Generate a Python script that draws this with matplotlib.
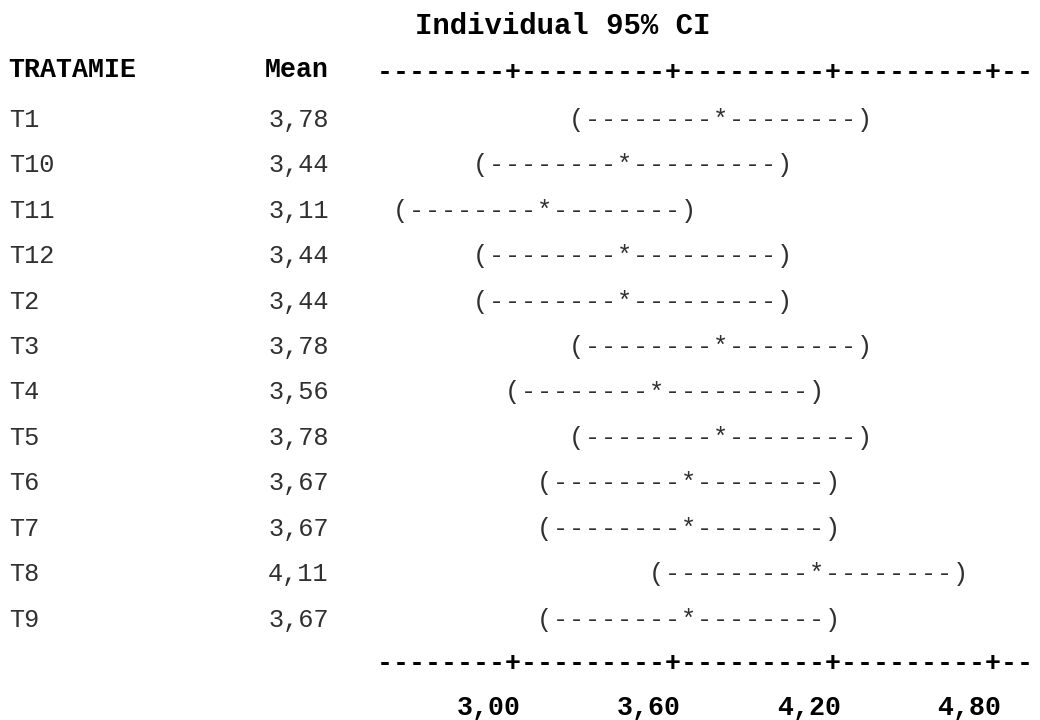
import math
import matplotlib
matplotlib.use("Agg")
import matplotlib.pyplot as plt

# Minitab one-way ANOVA output: individual 95% CIs for the treatment means
treatments = ["T1", "T10", "T11", "T12", "T2", "T3", "T4", "T5", "T6", "T7", "T8", "T9"]
means = [3.78, 3.44, 3.11, 3.44, 3.44, 3.78, 3.56, 3.78, 3.67, 3.67, 4.11, 3.67]
ci_half_width = 0.555          # pooled-StDev half width of each 95% CI
tick_values = [3.00, 3.60, 4.20, 4.80]
tick_labels = ["3,00", "3,60", "4,20", "4,80"]
title_text = "Individual 95% CI"
factor_name = "TRATAMIE"
mean_header = "Mean"

# character grid of the text plot
STEP = 0.06            # value per character column (0.60 between ticks = 10 columns)
TICK_COL = 31          # column holding the first tick '+'
AXIS_FIRST_COL, AXIS_LAST_COL = 23, 63
MEAN_COL = 16          # first column of the Mean field

FONT = "Liberation Mono"
SIZE = 19.2
SIZE_REG = 18.2
REG = "#303030"
BOLD = "#000000"


def col_center(c):
    return tick_values[0] + (c - TICK_COL) * STEP


def col_left(c):
    return col_center(c) - STEP / 2


def to_col(v):
    return int(math.floor(TICK_COL + (v - tick_values[0]) / STEP + 0.5 + 1e-9))


fig = plt.figure(figsize=(10.4, 7.2), dpi=100)
ax = fig.add_axes([0, 0, 1, 1])
ax.set_xlim(col_left(0) - 8.7 / 266.667, col_left(0) + (1040 - 8.7) / 266.667)
ax.set_ylim(13.054, -2.788)
ax.axis("off")

# title and column headers
ax.text(col_center(34.1), -2.04, title_text, family=FONT, fontsize=20.9,
        weight="bold", color=BOLD, ha="center", va="baseline")
ax.text(col_left(0), -1.087, factor_name, family=FONT, fontsize=SIZE,
        weight="bold", color=BOLD, ha="left", va="baseline")
ax.text(col_left(MEAN_COL + 4), -1.087, mean_header, family=FONT, fontsize=SIZE,
        weight="bold", color=BOLD, ha="right", va="baseline")

tick_cols = [to_col(v) for v in tick_values]


def draw_axis_line(y):
    for c in range(AXIS_FIRST_COL, AXIS_LAST_COL + 1):
        ch = "+" if c in tick_cols else "-"
        ax.text(col_center(c), y, ch, family=FONT, fontsize=SIZE, weight="bold",
                color=BOLD, ha="center", va="baseline")


draw_axis_line(-1.02)
draw_axis_line(11.976)

# tick labels, right-aligned under each '+'
for v, lab in zip(tick_values, tick_labels):
    ax.text(col_left(to_col(v) + 1), 12.944, lab, family=FONT, fontsize=SIZE,
            weight="bold", color=BOLD, ha="right", va="baseline")

# one row per treatment: name, mean and the text-drawn interval
for i, (name, m) in enumerate(zip(treatments, means)):
    ax.text(col_left(0), i, name, family=FONT, fontsize=SIZE_REG, color=REG,
            ha="left", va="baseline")
    ax.text(col_left(MEAN_COL + 4), i, f"{m:.2f}".replace(".", ","), family=FONT,
            fontsize=SIZE_REG, color=REG, ha="right", va="baseline")
    lo, mid, hi = to_col(m - ci_half_width), to_col(m), to_col(m + ci_half_width)
    for c in range(lo, hi + 1):
        ch = "(" if c == lo else ")" if c == hi else "*" if c == mid else "-"
        ax.text(col_center(c), i, ch, family=FONT, fontsize=SIZE_REG, color=REG,
                ha="center", va="baseline")

fig.savefig("out.png", dpi=100, facecolor="white")
